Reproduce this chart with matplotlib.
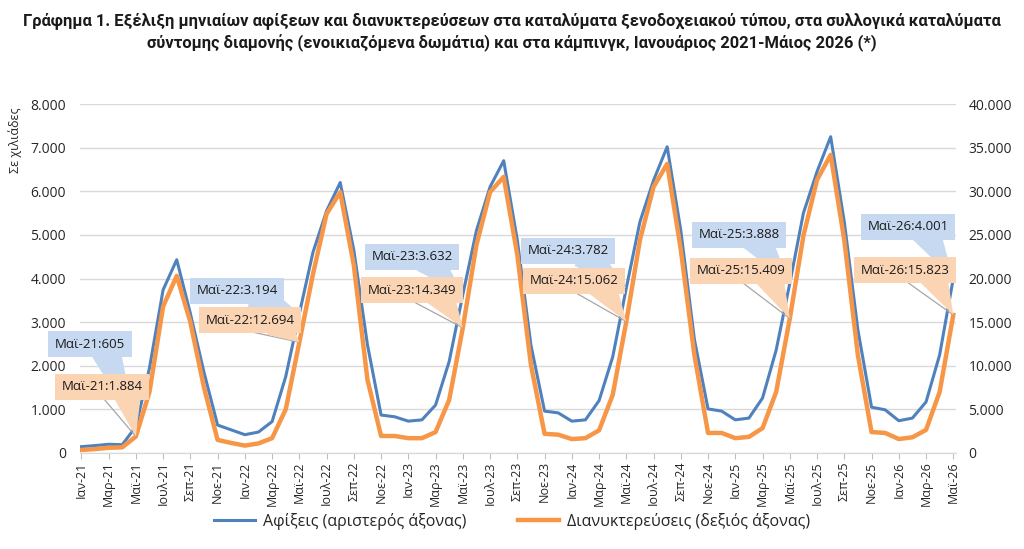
import matplotlib
matplotlib.use('Agg')
import matplotlib.pyplot as plt
from matplotlib.lines import Line2D
from matplotlib.ticker import FuncFormatter

# ---------------- data ----------------
month_names = ['Ιαν', 'Φεβ', 'Μαρ', 'Απρ', 'Μαϊ', 'Ιουν', 'Ιουλ', 'Αυγ', 'Σεπ', 'Οκτ', 'Νοε', 'Δεκ']
years = ['21', '22', '23', '24', '25', '26']
months = [f'{m}-{y}' for y in years for m in month_names][:65]

# arrivals (thousands, left axis)
arrivals = [145, 170, 200, 190, 605, 1950, 3740, 4430, 3200, 1850, 640, 530,
            420, 480, 720, 1750, 3194, 4600, 5550, 6200, 4650, 2480, 870, 830,
            730, 760, 1100, 2100, 3632, 5100, 6100, 6700, 4880, 2470, 960, 920,
            730, 760, 1200, 2200, 3782, 5300, 6250, 7020, 5100, 2600, 1010, 960,
            760, 800, 1260, 2360, 3888, 5500, 6450, 7250, 5300, 2820, 1050, 990,
            740, 800, 1170, 2250, 4001]
# overnight stays (thousands, right axis)
overnights = [350, 450, 600, 650, 1884, 7000, 16800, 20300, 15000, 7500, 1500, 1150,
              850, 1100, 1700, 5000, 12694, 20500, 27400, 29900, 21500, 8400, 1950, 1950,
              1700, 1700, 2400, 6100, 14349, 23850, 29900, 31650, 22700, 10100, 2200, 2100,
              1600, 1700, 2600, 6650, 15062, 24400, 30500, 33140, 23300, 11200, 2300, 2300,
              1700, 1850, 2850, 7000, 15409, 24900, 31300, 34170, 24400, 11200, 2400, 2300,
              1600, 1800, 2650, 7000, 15823]

callout_idx = [4, 16, 28, 40, 52, 64]

title = ('Γράφημα 1. Εξέλιξη μηνιαίων αφίξεων και διανυκτερεύσεων στα καταλύματα ξενοδοχειακού τύπου, '
         'στα συλλογικά καταλύματα\nσύντομης διαμονής (ενοικιαζόμενα δωμάτια) και στα κάμπινγκ, '
         'Ιανουάριος 2021-Μάιος 2026 (*)')
label_arr = 'Αφίξεις (αριστερός άξονας)'
label_ovn = 'Διανυκτερεύσεις (δεξιός άξονας)'
ylabel = 'Σε χιλιάδες'

# ---------------- style ----------------
plt.rcParams['font.family'] = ['Open Sans', 'DejaVu Sans']
BLUE = '#4F81BD'
ORANGE = '#F79646'
BLUE_BOX = '#C6D9F1'
ORANGE_BOX = '#FBD4B4'
GRID = '#D9D9D9'
TXT = '#262626'

def thousands(v, _pos=None):
    return f'{int(round(v)):,}'.replace(',', '.')

W, H = 1024, 549
fig = plt.figure(figsize=(W / 100, H / 100), dpi=100)
ax = fig.add_axes([80 / W, 1 - 453 / H, (956 - 80) / W, (453 - 104) / H])
ax2 = ax.twinx()

xs = list(range(len(months)))
ax.plot(xs, arrivals, color=BLUE, lw=2.2, solid_joinstyle='round', zorder=3)
ax2.plot(xs, overnights, color=ORANGE, lw=3.2, solid_joinstyle='round', zorder=3)

ax.set_xlim(-0.1, 64.2)
ax.set_ylim(0, 8000)
ax2.set_ylim(0, 40000)
ax.set_yticks(range(0, 8001, 1000))
ax2.set_yticks(range(0, 40001, 5000))
ax.yaxis.set_major_formatter(FuncFormatter(thousands))
ax2.yaxis.set_major_formatter(FuncFormatter(thousands))
ax.grid(axis='y', color=GRID, lw=1)
ax.set_axisbelow(True)

ax.set_xticks(xs[::2])
ax.set_xticklabels(months[::2], rotation=90, fontsize=9, color=TXT)
ax.tick_params(axis='x', length=4, color='#BFBFBF', pad=2)
ax.tick_params(axis='y', length=0, pad=10, labelsize=10, labelcolor=TXT)
ax2.tick_params(axis='y', length=0, pad=9, labelsize=10, labelcolor=TXT)
for a in (ax, ax2):
    for s in ('top', 'left', 'right'):
        a.spines[s].set_visible(False)
    a.spines['bottom'].set_color(GRID)

fig.text(15 / W, 1 - 140 / H, ylabel, rotation=90, ha='center', va='center', fontsize=9, color=TXT)

fig.text(0.5, 1 - 32 / H, title, ha='center', va='center', fontsize=11.9,
         fontweight='bold', family=['Roboto', 'DejaVu Sans'],
         linespacing=1.35, color='#1a1a1a')

# ---------------- callouts ----------------
blue_pos = [(90, 344), (237, 291), (412, 257), (568, 251), (739, 235), (908, 227)]
orng_pos = [(102, 387), (250, 320), (412, 290), (574, 281), (741, 271), (905, 270)]

wedge = 'wedge,tail_width=2.4,shrink_factor=0.5'
for k, i in enumerate(callout_idx):
    bx, by = blue_pos[k]
    ox, oy = orng_pos[k]
    ax2.annotate(f'{months[i]}:{thousands(arrivals[i])}', xy=(i, arrivals[i]), xycoords=ax.transData,
                 xytext=(bx, H - by), textcoords='figure pixels', ha='center', va='center',
                 fontsize=9.5, color='#1a1a1a', zorder=10,
                 bbox=dict(boxstyle='square,pad=0.5', fc=BLUE_BOX, ec='none'),
                 arrowprops=dict(arrowstyle=wedge, fc=BLUE_BOX,
                                 ec='none', patchA=None, shrinkA=0, shrinkB=0, relpos=(0.7, 0.3)))
    ax2.annotate('', xy=(i, overnights[i]), xycoords='data',
                 xytext=(ox + 2, H - oy - 12), textcoords='figure pixels', zorder=10,
                 arrowprops=dict(arrowstyle='-', color='#A6A6A6', lw=0.9, shrinkA=0, shrinkB=0))
    ax2.annotate(f'{months[i]}:{thousands(overnights[i])}', xy=(i, overnights[i]), xycoords='data',
                 xytext=(ox, H - oy), textcoords='figure pixels', ha='center', va='center',
                 fontsize=9.5, color='#1a1a1a', zorder=11,
                 bbox=dict(boxstyle='square,pad=0.5', fc=ORANGE_BOX, ec='none'),
                 arrowprops=dict(arrowstyle=wedge, fc=ORANGE_BOX,
                                 ec='none', patchA=None, shrinkA=0, shrinkB=0, relpos=(0.8, 0.3)))

# ---------------- legend ----------------
handles = [Line2D([], [], color=BLUE, lw=2.2), Line2D([], [], color=ORANGE, lw=3.2)]
fig.legend(handles, [label_arr, label_ovn], loc='center', bbox_to_anchor=(0.5, 1 - 521 / H),
           ncol=2, frameon=False, fontsize=11.5, handlelength=2.6, handletextpad=0.5,
           columnspacing=3.2, labelcolor=TXT)

fig.savefig('out.png', dpi=100)
